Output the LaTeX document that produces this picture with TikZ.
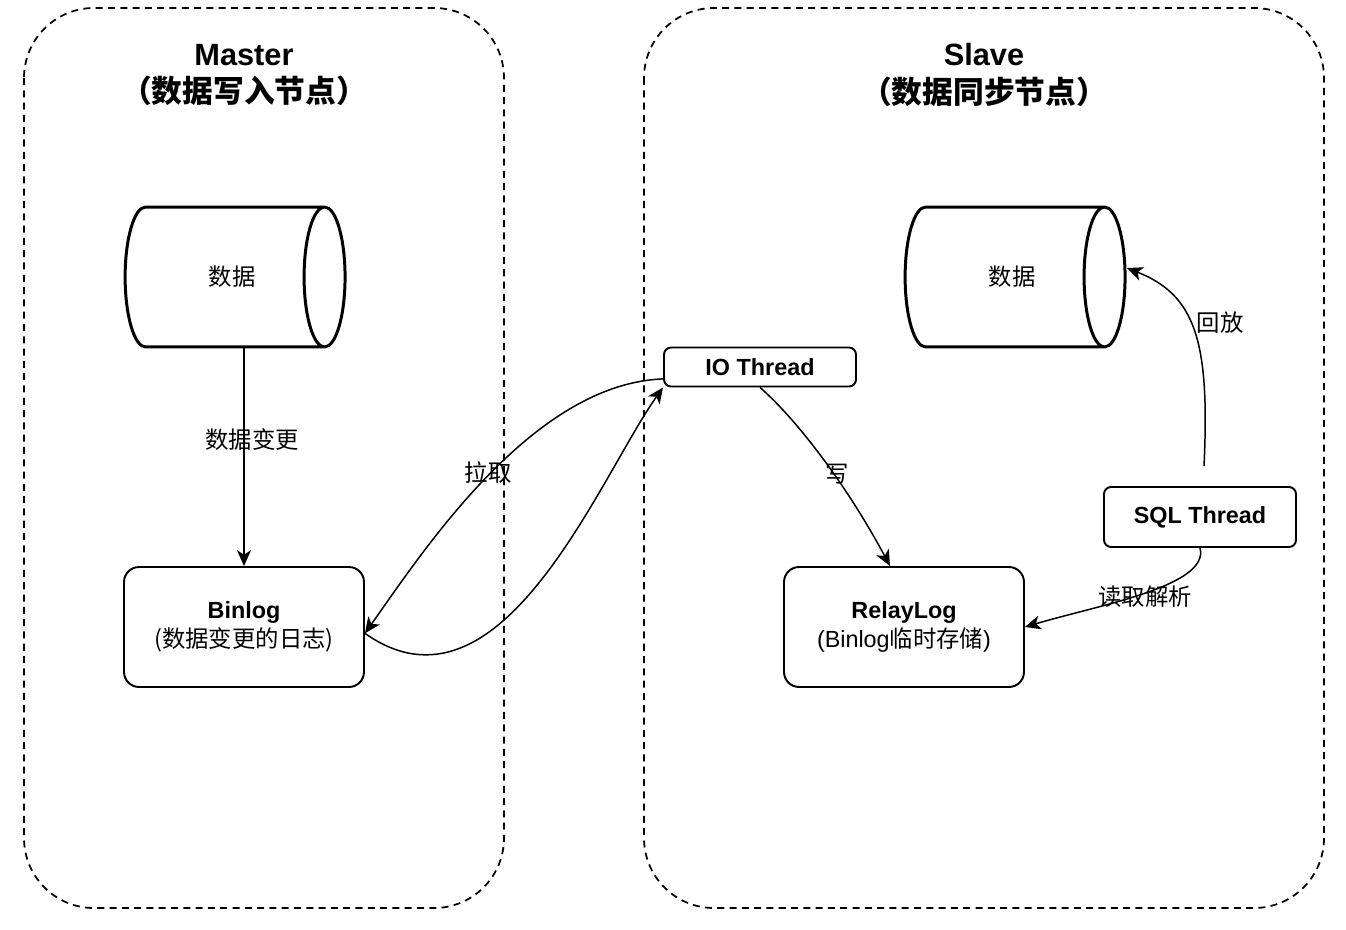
\documentclass[tikz,border=0pt]{standalone}
\usepackage{fontspec}
\setmainfont{Liberation Sans}
\newfontfamily\cjk{Noto Sans CJK SC}
\usetikzlibrary{shapes.geometric,arrows.meta}

\begin{document}
\begin{tikzpicture}[x=0.02cm,y=-0.02cm,
  group/.style={draw,line width=1pt,dash pattern=on 4pt off 3pt,rounded corners=1.4cm},
  title/.style={align=center,font=\bfseries\fontsize{17.5}{21.5}\selectfont},
  store/.style={draw,cylinder,line width=1.7pt,minimum width=2.8cm,minimum height=4.4cm,
                aspect=3.5,label={[lbl,xshift=0.24cm]center:#1}},
  logbox/.style={draw,line width=1.1pt,rounded corners=0.3cm,minimum width=4.8cm,
                 minimum height=2.4cm,align=center,font=\fontsize{13.3}{16.4}\selectfont},
  thread/.style={draw,line width=1.1pt,rounded corners=0.14cm,minimum width=3.84cm,
                 minimum height=0.78cm,font=\bfseries\fontsize{13.3}{16}\selectfont},
  lbl/.style={font=\cjk\fontsize{13.3}{16}\selectfont},
  flow/.style={line width=0.85pt,-{Stealth[length=9pt,width=8pt,inset=2.5pt]}}]
\useasboundingbox (0,0) rectangle (1346,930);
\draw [group] (24,8) rectangle (504,908);
\draw [group] (644,8) rectangle (1324,908);
\path ( 244,  75) node [title]  (mtitle) {Master\\{\cjk （数据写入节点）}};
\path ( 984,  75) node [title]  (stitle) {Slave\\{\cjk （数据同步节点）}};
\path ( 220, 277) node [store=数据] (mdata) {};
\path (1000, 277) node [store=数据] (sdata) {};
\path ( 244, 627) node [logbox] (binlog) {\textbf{Binlog}\\{\cjk (数据变更的日志)}};
\path ( 904, 627) node [logbox] (relay)  {\textbf{RelayLog}\\(Binlog{\cjk 临时存储})};
\path ( 760, 367) node [thread] (io)     {IO Thread};
\path (1200, 517) node [thread,minimum height=1.2cm] (sql) {SQL Thread};
\path ( 252, 440) node [lbl]    (change) {数据变更};
\path ( 488, 473) node [lbl]    (pull)   {拉取};
\path ( 837, 474) node [lbl]    (write)  {写};
\path (1145, 597) node [lbl]    (parse)  {读取解析};
\path (1220, 323) node [lbl]    (replay) {回放};
\coordinate (relayin) at (890,566);
\coordinate (sqltop)  at (1204,466);
\coordinate (sdatain) at (1127,268);
\draw [flow] (mdata.south -| binlog.north) -- (binlog.north);
\draw [flow] (io.187) .. controls +(-130,5) and +(60,-85) .. (binlog.-3);
\draw [flow] (binlog.-3) .. controls +(136,96) and +(-64,90) .. (io.south west);
\draw [flow] (io.south) .. controls +(40,35) and +(-40,-75) .. (relayin);
\draw [flow] (sql.south) .. controls +(10,38) and +(74,-22) .. (relay.east);
\draw [flow] (sqltop) .. controls +(6,-126) and +(68,27) .. (sdatain);
\end{tikzpicture}
\end{document}
